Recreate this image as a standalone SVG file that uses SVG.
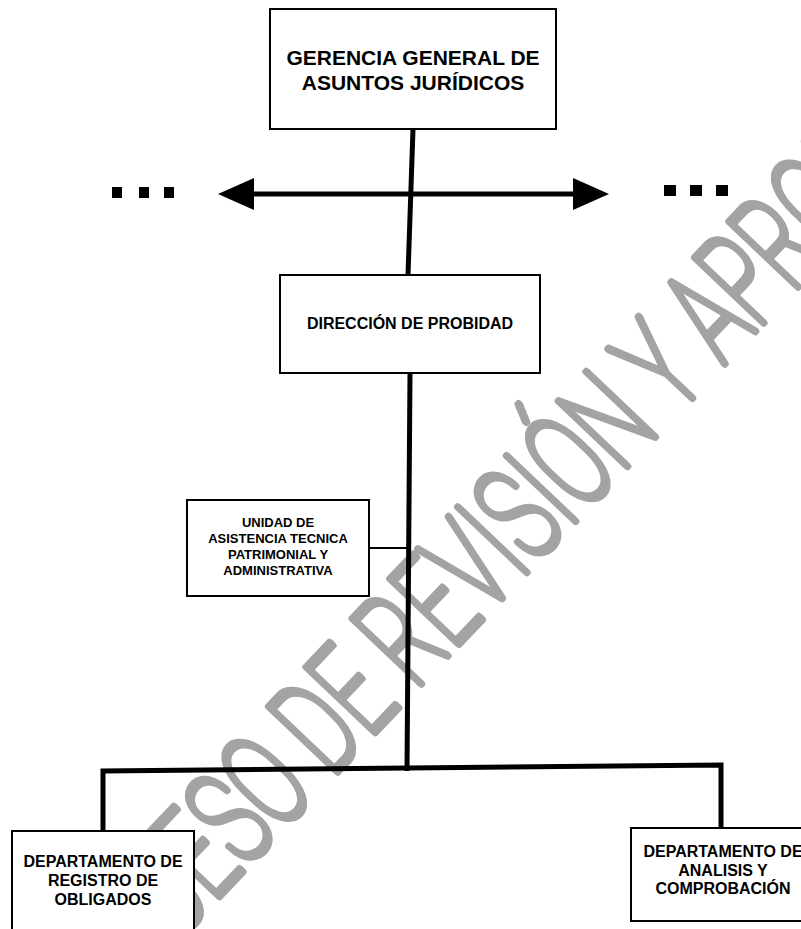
<svg xmlns="http://www.w3.org/2000/svg" width="801" height="929" viewBox="0 0 801 929">
<defs>
<style>
.box{fill:#fff;stroke:#000;stroke-width:2}
.t{font-family:"Liberation Sans",Arial,sans-serif;font-weight:bold;text-anchor:middle;fill:#000}
.wm{font-family:Roboto,"DejaVu Sans",sans-serif;font-weight:100;font-size:126px;fill:#a3a3a3;stroke:#a3a3a3;stroke-width:7px;stroke-linejoin:round;stroke-linecap:round;vector-effect:non-scaling-stroke}
.thick{fill:none;stroke:#000;stroke-width:5}
.thin{fill:none;stroke:#000;stroke-width:2}
.dot{fill:#000}
</style>
<marker id="ah" viewBox="0 -16 36 32" markerWidth="36" markerHeight="32" markerUnits="userSpaceOnUse" refX="0" refY="0" orient="auto-start-reverse">
<path d="M0,-16 L36,0 L0,16 Z" fill="#000"/>
</marker>
</defs>
<rect width="801" height="929" fill="#fff"/>
<g id="watermark">
<text class="wm" transform="translate(222,832) rotate(-46.5) scale(0.66,1.05) translate(-411,40)">PROCESO DE REVISIÓN Y APROBACIÓN</text>
</g>
<g id="connectors">
<line class="thick" x1="413" y1="129" x2="408" y2="275"/>
<line class="thick" x1="254" y1="194" x2="573" y2="194" marker-start="url(#ah)" marker-end="url(#ah)"/>
<line class="thick" x1="410" y1="373" x2="407" y2="771"/>
<polyline class="thick" points="103,831 103,771 721,765 721,828"/>
<line class="thin" x1="369" y1="548" x2="408" y2="548"/>
<rect class="dot" x="112" y="187" width="10" height="11"/>
<rect class="dot" x="139" y="187" width="10" height="11"/>
<rect class="dot" x="164" y="187" width="10" height="11"/>
<rect class="dot" x="664" y="185" width="12" height="11"/>
<rect class="dot" x="690" y="185" width="12" height="11"/>
<rect class="dot" x="716" y="185" width="12" height="11"/>
</g>
<g id="gerencia">
<rect class="box" x="270" y="9" width="286" height="120"/>
<text class="t" x="413" y="65" font-size="21">GERENCIA GENERAL DE</text>
<text class="t" x="413" y="90" font-size="21">ASUNTOS JURÍDICOS</text>
</g>
<g id="direccion">
<rect class="box" x="280" y="275" width="260" height="98"/>
<text class="t" x="410" y="329" font-size="16">DIRECCIÓN DE PROBIDAD</text>
</g>
<g id="unidad">
<rect class="box" x="187" y="500" width="182" height="96"/>
<text class="t" x="278" y="527" font-size="13">UNIDAD DE</text>
<text class="t" x="278" y="543" font-size="13">ASISTENCIA TECNICA</text>
<text class="t" x="278" y="559" font-size="13">PATRIMONIAL Y</text>
<text class="t" x="278" y="575" font-size="13">ADMINISTRATIVA</text>
</g>
<g id="registro">
<rect class="box" x="12" y="831" width="182" height="130"/>
<text class="t" x="103" y="867" font-size="16">DEPARTAMENTO DE</text>
<text class="t" x="103" y="886" font-size="16">REGISTRO DE</text>
<text class="t" x="103" y="905" font-size="16">OBLIGADOS</text>
</g>
<g id="analisis">
<rect class="box" x="631" y="828" width="200" height="93"/>
<text class="t" x="723" y="857" font-size="16">DEPARTAMENTO DE</text>
<text class="t" x="723" y="876" font-size="16">ANALISIS Y</text>
<text class="t" x="723" y="894" font-size="16">COMPROBACIÓN</text>
</g>
</svg>
